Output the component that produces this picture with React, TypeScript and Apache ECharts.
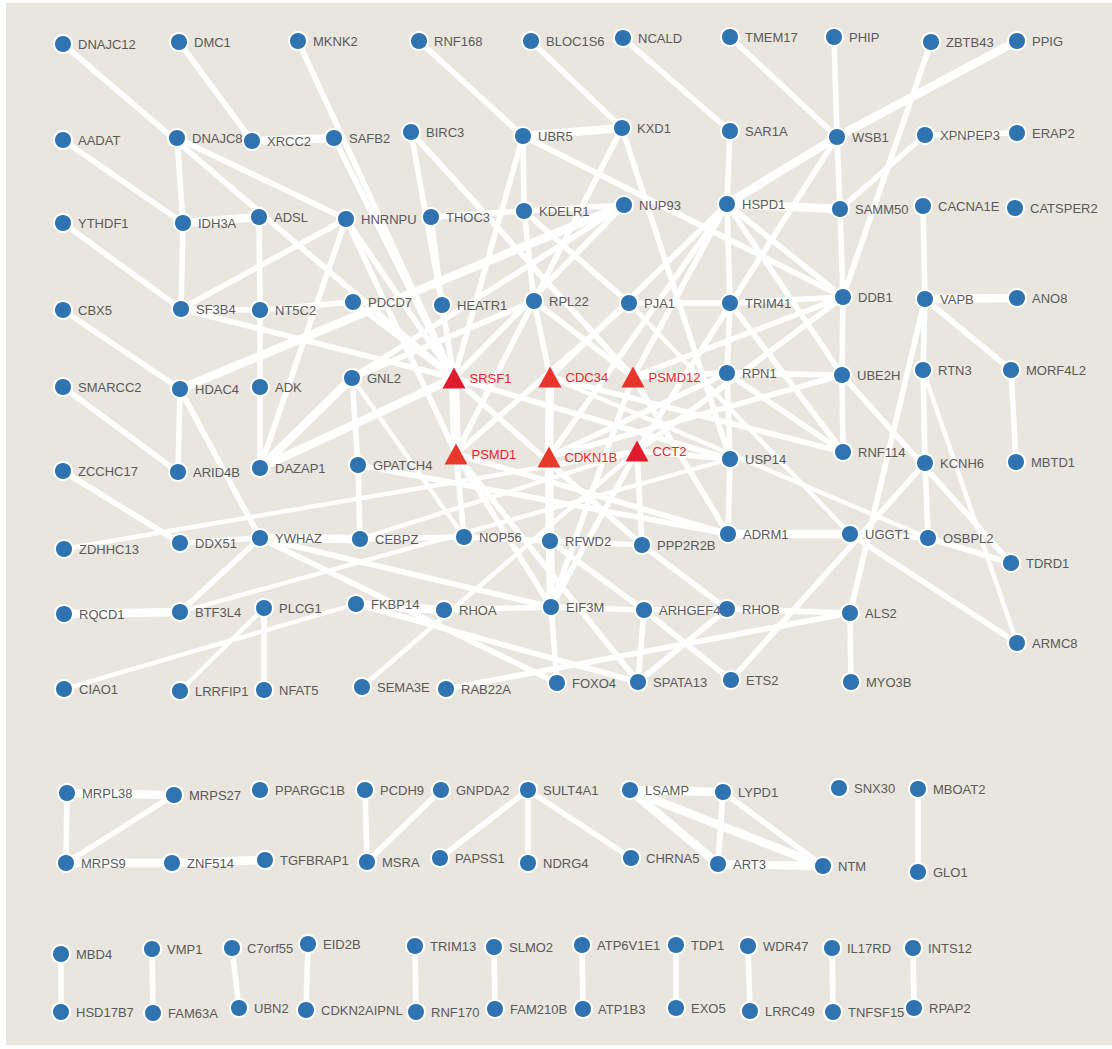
import React, { useEffect, useRef } from "react";
import * as echarts from "echarts";

// Seed genes of the interaction network (drawn as red triangles)
const seedGenes = ["SRSF1", "CDC34", "PSMD12", "PSMD1", "CDKN1B", "CCT2"];

// All genes in the network
const genes = [
  "DNAJC12", "DMC1", "MKNK2", "RNF168", "BLOC1S6", "NCALD", "TMEM17", "PHIP", "ZBTB43", "PPIG",
  "AADAT", "DNAJC8", "XRCC2", "SAFB2", "BIRC3", "UBR5", "KXD1", "SAR1A", "WSB1", "XPNPEP3", "ERAP2",
  "YTHDF1", "IDH3A", "ADSL", "HNRNPU", "THOC3", "KDELR1", "NUP93", "HSPD1", "SAMM50", "CACNA1E", "CATSPER2",
  "CBX5", "SF3B4", "NT5C2", "PDCD7", "HEATR1", "RPL22", "PJA1", "TRIM41", "DDB1", "VAPB", "ANO8",
  "SMARCC2", "HDAC4", "ADK", "GNL2", "SRSF1", "CDC34", "PSMD12", "RPN1", "UBE2H", "RTN3", "MORF4L2",
  "ZCCHC17", "ARID4B", "DAZAP1", "GPATCH4", "PSMD1", "CDKN1B", "CCT2", "USP14", "RNF114", "KCNH6", "MBTD1",
  "ZDHHC13", "DDX51", "YWHAZ", "CEBPZ", "NOP56", "RFWD2", "PPP2R2B", "ADRM1", "UGGT1", "OSBPL2", "TDRD1",
  "RQCD1", "BTF3L4", "PLCG1", "FKBP14", "RHOA", "EIF3M", "ARHGEF4", "RHOB", "ALS2", "ARMC8",
  "CIAO1", "LRRFIP1", "NFAT5", "SEMA3E", "RAB22A", "FOXO4", "SPATA13", "ETS2", "MYO3B",
  "MRPL38", "MRPS27", "PPARGC1B", "PCDH9", "GNPDA2", "SULT4A1", "LSAMP", "LYPD1", "SNX30", "MBOAT2",
  "MRPS9", "ZNF514", "TGFBRAP1", "MSRA", "PAPSS1", "NDRG4", "CHRNA5", "ART3", "NTM", "GLO1",
  "MBD4", "VMP1", "C7orf55", "EID2B", "TRIM13", "SLMO2", "ATP6V1E1", "TDP1", "WDR47", "IL17RD", "INTS12",
  "HSD17B7", "FAM63A", "UBN2", "CDKN2AIPNL", "RNF170", "FAM210B", "ATP1B3", "EXO5", "LRRC49", "TNFSF15", "RPAP2",
];

// Protein-protein interactions
const interactions: [string, string][] = [
  ["DNAJC12", "SRSF1"], ["DMC1", "XRCC2"], ["MKNK2", "SRSF1"], ["RNF168", "UBR5"], ["BLOC1S6", "KXD1"],
  ["NCALD", "SAR1A"], ["TMEM17", "WSB1"], ["PHIP", "WSB1"], ["ZBTB43", "DDB1"], ["PPIG", "WSB1"],
  ["AADAT", "IDH3A"], ["DNAJC8", "IDH3A"], ["IDH3A", "SF3B4"], ["DNAJC8", "HNRNPU"], ["XRCC2", "SAFB2"],
  ["SAFB2", "SRSF1"], ["BIRC3", "HEATR1"], ["BIRC3", "PSMD12"], ["UBR5", "KXD1"], ["UBR5", "SRSF1"],
  ["UBR5", "KDELR1"], ["KDELR1", "RPL22"], ["UBR5", "DDB1"], ["KXD1", "PSMD1"], ["KXD1", "USP14"],
  ["SAR1A", "HSPD1"], ["WSB1", "SAMM50"], ["WSB1", "HSPD1"], ["WSB1", "CCT2"], ["XPNPEP3", "ERAP2"],
  ["XPNPEP3", "SAMM50"], ["HSPD1", "SAMM50"], ["SAMM50", "DDB1"], ["CACNA1E", "VAPB"], ["YTHDF1", "SF3B4"],
  ["IDH3A", "ADSL"], ["ADSL", "NT5C2"], ["HNRNPU", "SF3B4"], ["HNRNPU", "DAZAP1"], ["HNRNPU", "SRSF1"],
  ["HNRNPU", "PSMD1"], ["THOC3", "KDELR1"], ["THOC3", "HEATR1"], ["KDELR1", "NUP93"], ["KDELR1", "PJA1"],
  ["HDAC4", "NUP93"], ["NUP93", "SRSF1"], ["GNL2", "NUP93"], ["HSPD1", "TRIM41"], ["HSPD1", "DDB1"],
  ["HSPD1", "UBE2H"], ["HSPD1", "CDC34"], ["HSPD1", "CDKN1B"], ["HSPD1", "PSMD12"], ["CBX5", "HDAC4"],
  ["SF3B4", "NT5C2"], ["SF3B4", "SRSF1"], ["NT5C2", "PDCD7"], ["NT5C2", "ADK"], ["PDCD7", "SRSF1"],
  ["HEATR1", "SRSF1"], ["RPL22", "CDC34"], ["GNL2", "RPL22"], ["RPL22", "PSMD12"], ["PJA1", "TRIM41"],
  ["PJA1", "PSMD1"], ["PJA1", "UGGT1"], ["TRIM41", "DDB1"], ["TRIM41", "RPN1"], ["TRIM41", "RNF114"],
  ["DDB1", "UBE2H"], ["VAPB", "ANO8"], ["VAPB", "RTN3"], ["RTN3", "KCNH6"], ["VAPB", "MORF4L2"],
  ["MORF4L2", "MBTD1"], ["VAPB", "ALS2"], ["SMARCC2", "ARID4B"], ["HDAC4", "ARID4B"], ["HDAC4", "YWHAZ"],
  ["ADK", "DAZAP1"], ["GNL2", "DAZAP1"], ["GNL2", "GPATCH4"], ["GNL2", "NOP56"], ["SRSF1", "PSMD1"],
  ["SRSF1", "USP14"], ["SRSF1", "PPP2R2B"], ["CDC34", "CDKN1B"], ["CDC34", "OSBPL2"], ["CDC34", "RNF114"],
  ["PSMD12", "RPN1"], ["PSMD12", "ADRM1"], ["PSMD12", "EIF3M"], ["PSMD12", "DDB1"], ["RPN1", "UBE2H"],
  ["RPN1", "USP14"], ["RPN1", "RNF114"], ["RPN1", "CDKN1B"], ["UBE2H", "RNF114"], ["UBE2H", "TDRD1"],
  ["RTN3", "ARMC8"], ["DAZAP1", "SRSF1"], ["GPATCH4", "CEBPZ"], ["GPATCH4", "ADRM1"], ["PSMD1", "NOP56"],
  ["PSMD1", "ADRM1"], ["PSMD1", "SPATA13"], ["PSMD1", "EIF3M"], ["CDKN1B", "RFWD2"], ["CDKN1B", "UBE2H"],
  ["CCT2", "USP14"], ["CCT2", "PPP2R2B"], ["CCT2", "EIF3M"], ["CCT2", "DDB1"], ["USP14", "ADRM1"],
  ["KCNH6", "OSBPL2"], ["ZDHHC13", "CCT2"], ["ZCCHC17", "DDX51"], ["DDX51", "YWHAZ"], ["YWHAZ", "CEBPZ"],
  ["CEBPZ", "NOP56"], ["NOP56", "RFWD2"], ["RFWD2", "PPP2R2B"], ["ADRM1", "UGGT1"], ["UGGT1", "OSBPL2"],
  ["OSBPL2", "TDRD1"], ["UGGT1", "ARMC8"], ["ETS2", "KCNH6"], ["RQCD1", "BTF3L4"], ["BTF3L4", "YWHAZ"],
  ["BTF3L4", "USP14"], ["PLCG1", "LRRFIP1"], ["PLCG1", "NFAT5"], ["CIAO1", "FKBP14"], ["FKBP14", "RHOA"],
  ["FKBP14", "SPATA13"], ["YWHAZ", "FOXO4"], ["YWHAZ", "EIF3M"], ["RHOA", "EIF3M"], ["SEMA3E", "CCT2"],
  ["RFWD2", "EIF3M"], ["EIF3M", "ARHGEF4"], ["ARHGEF4", "RHOB"], ["RHOB", "ALS2"], ["RFWD2", "ARHGEF4"],
  ["ARHGEF4", "ETS2"], ["ARHGEF4", "SPATA13"], ["RHOB", "SPATA13"], ["PPP2R2B", "RHOB"], ["EIF3M", "FOXO4"],
  ["RAB22A", "ALS2"], ["ALS2", "MYO3B"], ["CEBPZ", "CCT2"],
  ["MRPL38", "MRPS27"], ["MRPL38", "MRPS9"], ["MRPS27", "MRPS9"], ["MRPS9", "ZNF514"], ["ZNF514", "TGFBRAP1"],
  ["PCDH9", "MSRA"], ["GNPDA2", "MSRA"], ["SULT4A1", "PAPSS1"], ["SULT4A1", "NDRG4"], ["SULT4A1", "CHRNA5"],
  ["LSAMP", "LYPD1"], ["LSAMP", "ART3"], ["LSAMP", "NTM"], ["LYPD1", "ART3"], ["LYPD1", "NTM"],
  ["ART3", "NTM"], ["MBOAT2", "GLO1"],
  ["MBD4", "HSD17B7"], ["VMP1", "FAM63A"], ["C7orf55", "UBN2"], ["EID2B", "CDKN2AIPNL"], ["TRIM13", "RNF170"],
  ["SLMO2", "FAM210B"], ["ATP6V1E1", "ATP1B3"], ["TDP1", "EXO5"], ["WDR47", "LRRC49"], ["IL17RD", "TNFSF15"],
  ["INTS12", "RPAP2"],
];

// Interaction confidence: high-confidence and low-confidence pairs; the rest are medium
const highConfidence: [string, string][] = [
  ["SRSF1", "PSMD1"], ["WSB1", "HSPD1"], ["RQCD1", "BTF3L4"], ["YWHAZ", "CEBPZ"], ["VAPB", "ANO8"],
  ["ART3", "NTM"], ["LSAMP", "NTM"], ["MRPS9", "ZNF514"], ["ZNF514", "TGFBRAP1"], ["MRPL38", "MRPS27"],
  ["XRCC2", "SAFB2"], ["IDH3A", "ADSL"], ["PPIG", "WSB1"], ["HSPD1", "SAMM50"], ["CDKN1B", "RFWD2"],
  ["RFWD2", "EIF3M"], ["HDAC4", "NUP93"], ["GNL2", "DAZAP1"], ["DAZAP1", "SRSF1"], ["FKBP14", "RHOA"],
  ["ADRM1", "UGGT1"], ["LSAMP", "LYPD1"], ["UBR5", "KXD1"], ["CDC34", "CDKN1B"], ["LSAMP", "ART3"],
];
const lowConfidence: [string, string][] = [
  ["CIAO1", "FKBP14"], ["PLCG1", "LRRFIP1"], ["SEMA3E", "CCT2"], ["ZDHHC13", "CCT2"], ["BTF3L4", "USP14"],
  ["CEBPZ", "CCT2"], ["GNL2", "NOP56"], ["PJA1", "UGGT1"], ["RTN3", "ARMC8"], ["CDC34", "OSBPL2"],
];

// Layout of the network (pixel coordinates on the canvas)
const layoutXY: Record<string, [number, number]> = {
  DNAJC12: [63, 44], DMC1: [179, 42], MKNK2: [298, 41], RNF168: [419, 41], BLOC1S6: [531, 41],
  NCALD: [623, 38], TMEM17: [730, 37], PHIP: [834, 37], ZBTB43: [931, 42], PPIG: [1017, 41],
  AADAT: [63, 140], DNAJC8: [177, 138], XRCC2: [252, 141], SAFB2: [334, 138], BIRC3: [411, 132],
  UBR5: [523, 136], KXD1: [622, 128], SAR1A: [730, 131], WSB1: [837, 137], XPNPEP3: [925, 135], ERAP2: [1017, 133],
  YTHDF1: [63, 223], IDH3A: [183, 223], ADSL: [259, 217], HNRNPU: [346, 219], THOC3: [431, 217],
  KDELR1: [524, 211], NUP93: [624, 205], HSPD1: [727, 204], SAMM50: [840, 209], CACNA1E: [923, 206], CATSPER2: [1015, 208],
  CBX5: [63, 310], SF3B4: [181, 309], NT5C2: [260, 310], PDCD7: [353, 302], HEATR1: [442, 305],
  RPL22: [534, 301], PJA1: [629, 303], TRIM41: [730, 303], DDB1: [843, 297], VAPB: [925, 299], ANO8: [1017, 298],
  SMARCC2: [63, 387], HDAC4: [180, 389], ADK: [260, 387], GNL2: [352, 378], SRSF1: [454, 378],
  CDC34: [550, 377], PSMD12: [633, 377], RPN1: [727, 373], UBE2H: [842, 375], RTN3: [923, 370], MORF4L2: [1011, 370],
  ZCCHC17: [63, 471], ARID4B: [178, 472], DAZAP1: [260, 468], GPATCH4: [358, 465], PSMD1: [456, 454],
  CDKN1B: [549, 457], CCT2: [637, 451], USP14: [730, 459], RNF114: [843, 452], KCNH6: [925, 463], MBTD1: [1016, 462],
  ZDHHC13: [64, 549], DDX51: [180, 543], YWHAZ: [260, 538], CEBPZ: [360, 539], NOP56: [464, 537],
  RFWD2: [550, 541], PPP2R2B: [642, 545], ADRM1: [728, 534], UGGT1: [850, 534], OSBPL2: [928, 538], TDRD1: [1011, 563],
  RQCD1: [64, 614], BTF3L4: [180, 612], PLCG1: [264, 608], FKBP14: [356, 604], RHOA: [444, 610],
  EIF3M: [551, 607], ARHGEF4: [644, 610], RHOB: [727, 609], ALS2: [850, 613], ARMC8: [1017, 643],
  CIAO1: [64, 689], LRRFIP1: [180, 691], NFAT5: [264, 690], SEMA3E: [362, 687], RAB22A: [446, 689],
  FOXO4: [557, 683], SPATA13: [638, 682], ETS2: [731, 680], MYO3B: [851, 682],
  MRPL38: [67, 793], MRPS27: [174, 795], PPARGC1B: [260, 790], PCDH9: [365, 790], GNPDA2: [441, 790],
  SULT4A1: [528, 790], LSAMP: [630, 790], LYPD1: [723, 792], SNX30: [839, 788], MBOAT2: [918, 789],
  MRPS9: [66, 863], ZNF514: [172, 863], TGFBRAP1: [265, 860], MSRA: [367, 862], PAPSS1: [440, 858],
  NDRG4: [528, 863], CHRNA5: [631, 858], ART3: [718, 864], NTM: [823, 866], GLO1: [918, 872],
  MBD4: [61, 954], VMP1: [152, 949], C7orf55: [232, 948], EID2B: [308, 944], TRIM13: [415, 946],
  SLMO2: [494, 947], ATP6V1E1: [582, 945], TDP1: [676, 945], WDR47: [748, 946], IL17RD: [832, 948], INTS12: [913, 948],
  HSD17B7: [61, 1012], FAM63A: [153, 1013], UBN2: [239, 1008], CDKN2AIPNL: [306, 1010], RNF170: [416, 1012],
  FAM210B: [495, 1009], ATP1B3: [583, 1009], EXO5: [676, 1008], LRRC49: [750, 1011], TNFSF15: [833, 1012], RPAP2: [914, 1008],
};

const WIDTH = 1112;
const HEIGHT = 1049;
const FONT = '"Liberation Sans", Arial, Helvetica, sans-serif';

const pairKey = (a: string, b: string) => (a < b ? a + "|" + b : b + "|" + a);
const highSet = new Set(highConfidence.map(([a, b]) => pairKey(a, b)));
const lowSet = new Set(lowConfidence.map(([a, b]) => pairKey(a, b)));

function confidence(a: string, b: string): number {
  const k = pairKey(a, b);
  if (k === pairKey("SRSF1", "PSMD1")) return 1;
  if (highSet.has(k)) return 0.8;
  if (lowSet.has(k)) return 0.3;
  return 0.45;
}

const seedColor: Record<string, string> = {
  SRSF1: "#e01b2d",
  CCT2: "#e01b2d",
  CDC34: "#e8342b",
  PSMD12: "#e8342b",
  PSMD1: "#e8382c",
  CDKN1B: "#e8382c",
};

export default function App() {
  const ref = useRef<HTMLDivElement>(null);

  useEffect(() => {
    if (!ref.current) return;
    const chart = echarts.init(ref.current, undefined, { renderer: "svg" });

    const nodes = genes.map((g) => {
      const isSeed = seedGenes.includes(g);
      return {
        name: g,
        value: layoutXY[g],
        symbol: isSeed ? "triangle" : "circle",
        symbolSize: isSeed ? [23, 21] : 18,
        itemStyle: isSeed
          ? { color: seedColor[g], borderWidth: 0 }
          : { color: "#2f74b1", borderColor: "#ffffff", borderWidth: 2 },
        label: {
          show: true,
          position: "right",
          distance: isSeed ? 4 : 5,
          color: isSeed ? "#e4262d" : "#5a5a5a",
          fontSize: 13,
          fontFamily: FONT,
        },
      };
    });

    const links = interactions.map(([s, t]) => ({
      source: s,
      target: t,
      lineStyle: { width: 2 + 8 * confidence(s, t) },
    }));

    chart.setOption({
      animation: false,
      backgroundColor: "#ffffff",
      grid: {
        left: 6,
        top: 3,
        right: 0,
        bottom: 4,
        show: true,
        backgroundColor: "#e9e6e0",
        borderWidth: 0,
      },
      xAxis: { type: "value", min: 6, max: WIDTH, show: false },
      yAxis: { type: "value", min: 3, max: 1045, inverse: true, show: false },
      series: [
        {
          type: "graph",
          coordinateSystem: "cartesian2d",
          layout: "none",
          silent: true,
          data: nodes,
          links,
          edgeSymbol: ["none", "none"],
          lineStyle: { color: "#ffffff", opacity: 1, curveness: 0 },
          emphasis: { disabled: true },
        },
      ],
    });

    return () => chart.dispose();
  }, []);

  return (
    <div
      ref={ref}
      style={{ position: "absolute", left: 0, top: 0, width: WIDTH, height: HEIGHT }}
    />
  );
}
